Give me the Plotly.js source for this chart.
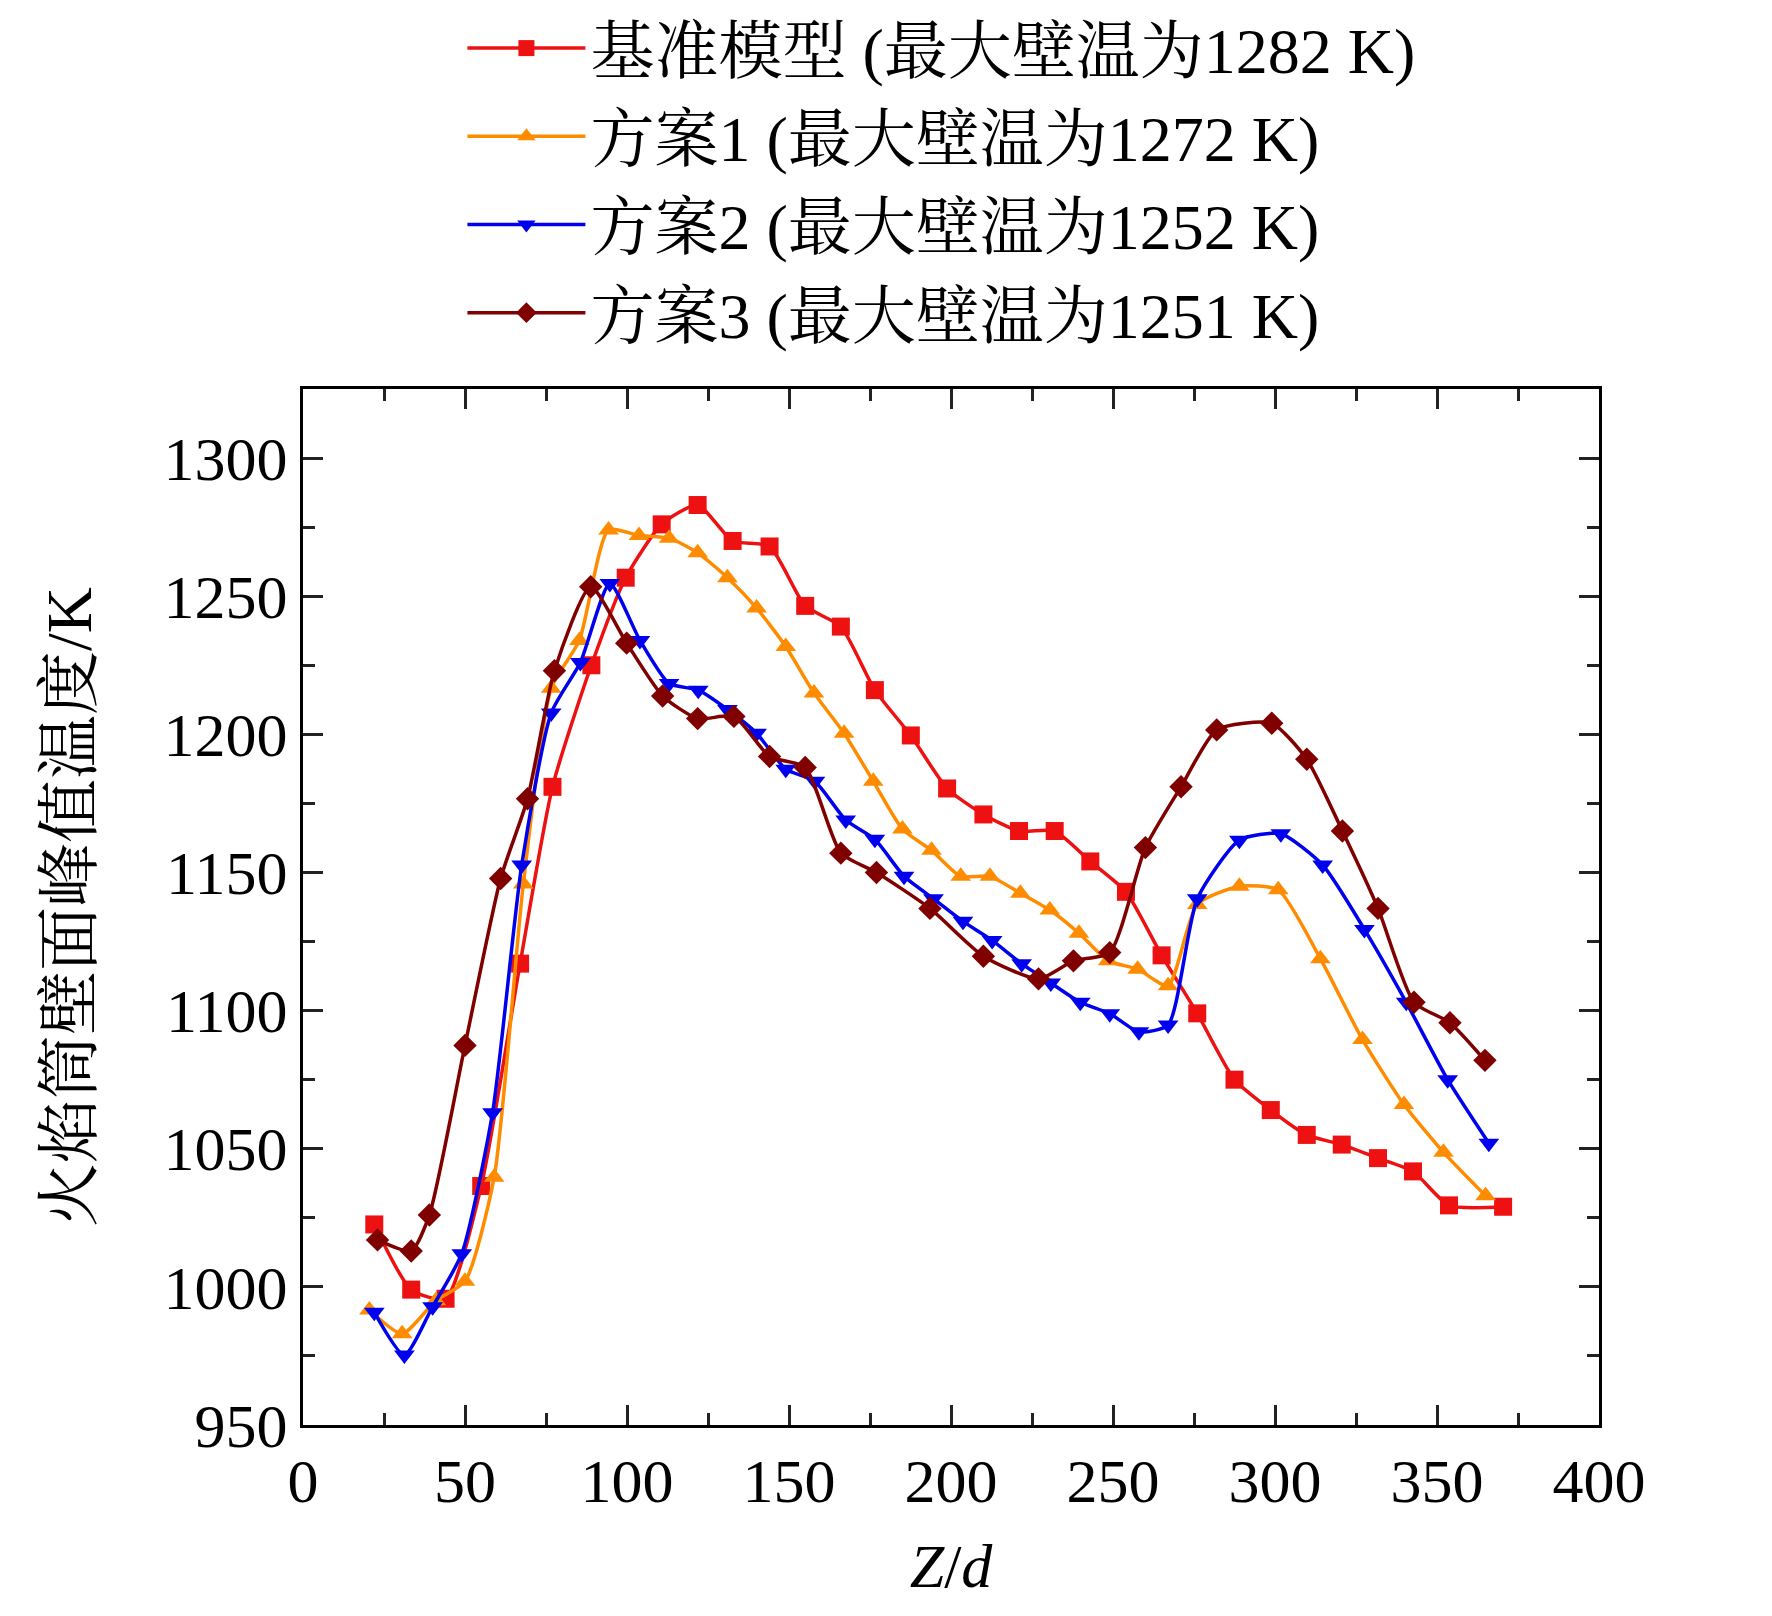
<!DOCTYPE html>
<html>
<head>
<meta charset="utf-8">
<script src="https://cdn.plot.ly/plotly-3.0.1.min.js"></script>
<style>body{margin:0;background:#fff}</style>
</head>
<body>
<div id="graph" style="width:1772px;height:1616px"></div>
<script>
var baseX = [22, 33.4, 44, 55, 67, 77, 89, 99.6, 110.7, 121.8, 132.6, 144, 155, 166, 176.5, 187.6, 198.8, 210, 221, 232, 243, 254, 265, 276, 287.5, 298.7, 309.8, 320.6, 331.8, 342.6, 353.7, 370.4];
var baseY = [1022.6, 999, 995.7, 1036.5, 1117, 1181, 1225, 1256.7, 1276, 1283, 1270, 1268, 1246.5, 1239, 1216, 1199.6, 1180.4, 1171, 1165, 1165, 1154, 1143, 1120, 1099, 1075, 1064, 1055, 1051.5, 1046.6, 1041.8, 1029.5, 1029];

var s1X = [20.5, 30.6, 41, 50, 59, 68, 76.6, 85.3, 94.3, 103.7, 113, 121.8, 131, 140, 149, 157.7, 167, 176, 185, 194, 203, 212, 221.4, 230.5, 239.5, 248.5, 257.6, 267, 276, 289, 301, 314, 327, 339.8, 352, 365];
var s1Y = [991.6, 983, 995, 1002, 1039.7, 1145.8, 1216.7, 1234, 1274, 1272, 1271, 1265.7, 1256.7, 1245.7, 1231.8, 1215, 1200.4, 1183, 1165.7, 1158, 1148.6, 1148.6, 1142.5, 1136.4, 1128, 1118, 1115, 1109, 1138.4, 1145, 1143.7, 1118.8, 1089.5, 1066, 1048.7, 1033];

var s2X = [22, 31.3, 40, 49, 58.5, 67.5, 76.6, 85.6, 94.7, 104, 113, 122, 131, 140, 149, 158, 167.5, 176.5, 185.5, 194.6, 203.7, 212.7, 221.8, 230.8, 239.9, 249, 258, 267, 276, 289, 301.8, 314.7, 327.6, 340.5, 353.3, 366];
var s2Y = [990.8, 975.3, 992.8, 1012, 1063, 1152.7, 1207.7, 1226, 1254.6, 1234, 1218.4, 1216, 1209, 1200.4, 1187.4, 1183, 1169, 1162, 1148.6, 1140.5, 1132.3, 1125.4, 1117, 1110, 1103, 1098.9, 1092.3, 1094.8, 1140.5, 1161.7, 1164, 1152.7, 1129.4, 1103, 1075, 1052];

var s3X = [23, 33.4, 39, 50, 61, 69.3, 77.6, 88.8, 99.9, 111, 121.8, 133, 144, 155, 166, 177, 193.5, 210, 227, 237.8, 249, 260, 271, 282, 299, 309.8, 320.8, 331.8, 342.9, 354, 364.8];
var s3Y = [1017, 1013, 1026, 1087.4, 1147.8, 1176.7, 1223, 1253.4, 1233, 1213.9, 1205.7, 1206.5, 1192, 1188, 1157, 1150, 1137, 1119.7, 1111.5, 1118, 1121, 1159, 1181, 1201.6, 1204, 1191, 1165, 1137, 1103, 1095.6, 1082];

var names = ['基准模型 (最大壁温为1282 K)', '方案1 (最大壁温为1272 K)', '方案2 (最大壁温为1252 K)', '方案3 (最大壁温为1251 K)'];
var colors = ['#ee1111', '#ff8c00', '#0000ee', '#800000'];
var symbols = ['square', 'triangle-up', 'triangle-down', 'diamond'];
var xs = [baseX, s1X, s2X, s3X];
var ys = [baseY, s1Y, s2Y, s3Y];

var font = 'Liberation Serif, Noto Serif CJK SC, Noto Sans CJK SC, serif';

var data = xs.map(function (x, i) {
  return {
    x: x,
    y: ys[i],
    name: names[i],
    legendgroup: 'g' + i,
    mode: 'lines+markers',
    type: 'scatter',
    line: {color: colors[i], width: 3.5, shape: 'spline', smoothing: 0.6},
    marker: {color: colors[i], symbol: symbols[i], size: 18}
  };
});

var axis = {
  showline: true, linecolor: '#000', linewidth: 3, mirror: 'ticks',
  ticks: 'inside', ticklen: 20, tickwidth: 3, tickcolor: '#222',
  showgrid: false, zeroline: false,
  tickfont: {family: font, size: 62, color: '#000'}
};

var layout = {
  width: 1772,
  height: 1616,
  margin: {l: 303, r: 173, t: 389, b: 191},
  paper_bgcolor: '#fff',
  plot_bgcolor: '#fff',
  font: {family: font, color: '#000'},
  xaxis: Object.assign({}, axis, {
    range: [0, 400], dtick: 50,
    minor: {dtick: 25, ticks: 'inside', ticklen: 12, tickwidth: 3, tickcolor: '#222'},
    title: {text: '<i>Z</i>/<i>d</i>', font: {family: font, size: 62}, standoff: 30}
  }),
  yaxis: Object.assign({}, axis, {
    range: [950, 1325], dtick: 50,
    minor: {dtick: 25, ticks: 'inside', ticklen: 12, tickwidth: 3, tickcolor: '#222'},
    title: {text: '火焰筒壁面峰值温度/K', font: {family: font, size: 64}, standoff: 52}
  }),
  showlegend: true,
  legend: {
    x: 0.123, y: 1.0, xref: 'paper', yref: 'container', xanchor: 'left', yanchor: 'top',
    traceorder: 'grouped', tracegroupgap: 2,
    font: {family: font, size: 64, color: '#000'},
    itemwidth: 118, bgcolor: 'rgba(0,0,0,0)'
  }
};

Plotly.newPlot('graph', data, layout, {displayModeBar: false});
</script>
</body>
</html>
